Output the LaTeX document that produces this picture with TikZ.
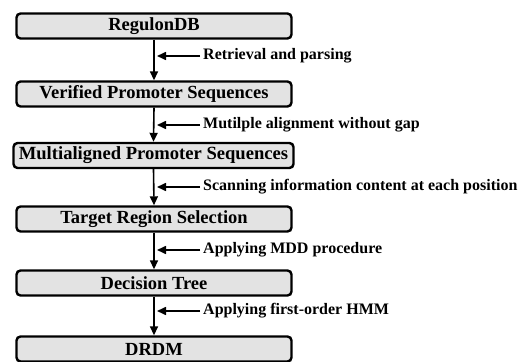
\documentclass[tikz,border=0pt]{standalone}
\usepackage{fontspec}
\setmainfont{Liberation Serif}
\usetikzlibrary{arrows.meta}
\begin{document}
\begin{tikzpicture}[x=1pt,y=-1pt,
  box/.style={draw=black, line width=2.4pt, rounded corners=4pt, fill=gray!22,
    minimum width=275pt, minimum height=25pt, inner sep=0pt,
    font=\fontsize{18.5}{20}\selectfont\bfseries},
  lbl/.style={font=\fontsize{16}{18}\selectfont\bfseries, inner sep=0pt, anchor=west},
  flow/.style={line width=1.6pt, -{Triangle[length=9pt,width=8pt]}},
  side/.style={line width=1.6pt, -{Triangle[length=9pt,width=8pt]}}]
\useasboundingbox (0,0) rectangle (524,361);
\node[box] (b1) at (154,26) {RegulonDB};
\node[box] (b2) at (154,94) {Verified Promoter Sequences};
\node[box, minimum width=280pt, font=\fontsize{18.6}{20}\selectfont\bfseries] (b3) at (153.5,155.5) {Multialigned Promoter Sequences};
\node[box] (b4) at (154,219) {Target Region Selection};
\node[box] (b5) at (154,283) {Decision Tree};
\node[box] (b6) at (154,349) {DRDM};
\draw[flow] (b1.south) -- (b2.north);
\draw[flow] (b2.south) -- (b3.north);
\draw[flow] (b3.south) -- (b4.north);
\draw[flow] (b4.south) -- (b5.north);
\draw[flow] (b5.south) -- (b6.north);
\node[lbl] (l1) at (203,56) {Retrieval and parsing};
\node[lbl] (l2) at (203,125) {Mutilple alignment without gap};
\node[lbl] (l3) at (203,187) {Scanning information content at each position};
\node[lbl] (l4) at (203,250) {Applying MDD procedure};
\node[lbl] (l5) at (203,311) {Applying first-order HMM};
\coordinate (t1) at (157,56);
\coordinate (t2) at (157,125);
\coordinate (t3) at (157,187);
\coordinate (t4) at (157,250);
\coordinate (t5) at (157,311);
\draw[side] ([xshift=-3pt]l1.west) -- (t1);
\draw[side] ([xshift=-3pt]l2.west) -- (t2);
\draw[side] ([xshift=-3pt]l3.west) -- (t3);
\draw[side] ([xshift=-3pt]l4.west) -- (t4);
\draw[side] ([xshift=-3pt]l5.west) -- (t5);
\end{tikzpicture}
\end{document}
